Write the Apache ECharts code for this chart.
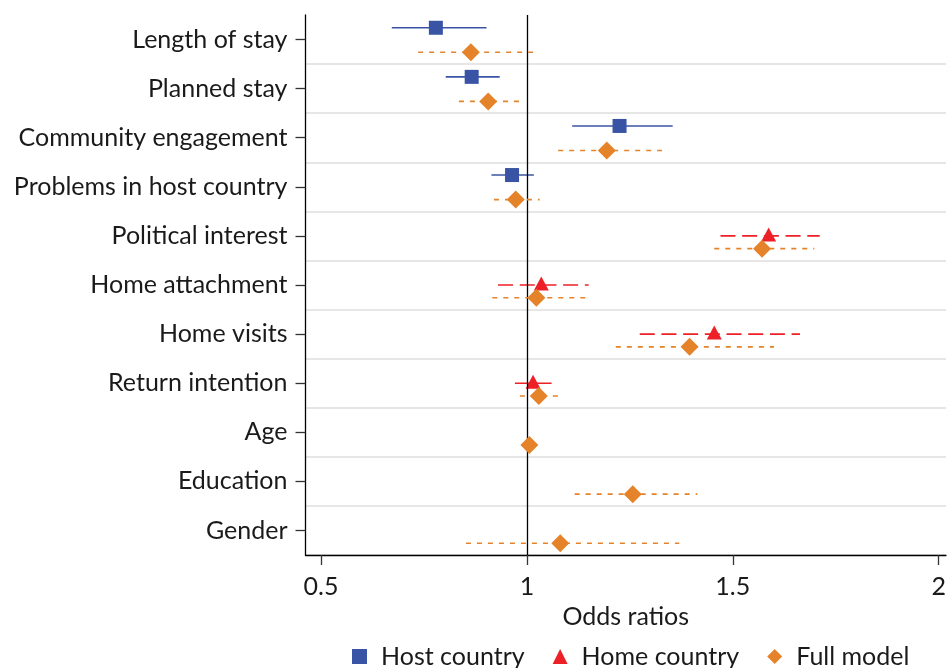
<!DOCTYPE html>
<html>
<head>
<meta charset="utf-8">
<script src="https://cdn.jsdelivr.net/npm/echarts@6/dist/echarts.min.js"></script>
<style>
html,body{margin:0;padding:0;background:#fff;}
#chart{width:949px;height:668px;}
</style>
</head>
<body>
<div id="chart"></div>
<script>
const categories = ['Length of stay','Planned stay','Community engagement','Problems in host country','Political interest','Home attachment','Home visits','Return intention','Age','Education','Gender'];
const xTicks = [0.5, 1, 1.5, 2];

const hostEst = [0.779, 0.866, 1.225, 0.964, null, null, null, null, null, null, null];
const hostLo  = [0.672, 0.803, 1.110, 0.914, null, null, null, null, null, null, null];
const hostHi  = [0.902, 0.934, 1.354, 1.017, null, null, null, null, null, null, null];

const homeEst = [null, null, null, null, 1.587, 1.035, 1.455, 1.015, null, null, null];
const homeLo  = [null, null, null, null, 1.470, 0.930, 1.274, 0.971, null, null, null];
const homeHi  = [null, null, null, null, 1.711, 1.150, 1.663, 1.060, null, null, null];

const fullEst = [0.864, 0.906, 1.194, 0.973, 1.571, 1.023, 1.395, 1.029, 1.006, 1.257, 1.081];
const fullLo  = [0.736, 0.835, 1.076, 0.920, 1.455, 0.916, 1.216, 0.983, 0.995, 1.116, 0.852];
const fullHi  = [1.015, 0.982, 1.328, 1.031, 1.698, 1.142, 1.600, 1.076, 1.017, 1.414, 1.370];

const FONT = 'Lato';
const FS = 25;

function buildData(est, lo, hi) {
  const out = [];
  categories.forEach((c, i) => {
    if (est[i] != null) out.push([c, est[i], lo[i], hi[i]]);
  });
  return out;
}

function makeRender(offset, shape, color, lineDash, size) {
  return function (params, api) {
    const cat = api.value(0);
    const band = api.size([0, 1])[1];
    const dy = offset * band;
    const p = api.coord([api.value(1), cat]);
    const pl = api.coord([api.value(2), cat]);
    const ph = api.coord([api.value(3), cat]);
    const y = p[1] + dy;
    const children = [{
      type: 'line',
      shape: { x1: pl[0], y1: y, x2: ph[0], y2: y },
      style: { stroke: color, lineWidth: 1.6, lineDash: lineDash }
    }];
    const x = p[0];
    const h = size / 2;
    if (shape === 'square') {
      children.push({ type: 'rect', shape: { x: x - h, y: y - h, width: size, height: size }, style: { fill: color } });
    } else if (shape === 'triangle') {
      children.push({ type: 'polygon', shape: { points: [[x, y - h - 1], [x + h, y + h - 2], [x - h, y + h - 2]] }, style: { fill: color } });
    } else {
      children.push({ type: 'polygon', shape: { points: [[x, y - h], [x + h, y], [x, y + h], [x - h, y]] }, style: { fill: color } });
    }
    return { type: 'group', children: children };
  };
}

const cHost = '#3a54a5';
const cHome = '#ee2027';
const cFull = '#e5832a';

const chart = echarts.init(document.getElementById('chart'), null, { renderer: 'canvas' });
chart.setOption({
  animation: false,
  backgroundColor: '#ffffff',
  textStyle: { fontFamily: FONT },
  grid: { show: false, left: 305.5, right: 0, top: 15, bottom: 113, containLabel: false },
  legend: {
    bottom: -6,
    left: 347,
    itemWidth: 15,
    itemHeight: 15,
    itemGap: 28,
    textStyle: { fontFamily: FONT, fontSize: FS, color: '#1a1a1a', padding: [0, 0, 0, 9] },
    data: [
      { name: 'Host country', icon: 'rect' },
      { name: 'Home country', icon: 'triangle' },
      { name: 'Full model', icon: 'diamond' }
    ]
  },
  xAxis: {
    type: 'value',
    min: 0.4625,
    max: 2.0175,
    name: 'Odds ratios',
    nameLocation: 'middle',
    nameGap: 49,
    nameTextStyle: { fontFamily: FONT, fontSize: FS, color: '#1a1a1a' },
    axisLine: { show: true, onZero: false, lineStyle: { color: '#000', width: 1.3 } },
    axisTick: { show: true, length: 10, customValues: xTicks, lineStyle: { color: '#333', width: 1.3 } },
    axisLabel: { customValues: xTicks, margin: 19, fontFamily: FONT, fontSize: FS, color: '#1a1a1a', formatter: v => String(v) },
    splitLine: { show: false },
    minorSplitLine: { show: false }
  },
  yAxis: {
    type: 'category',
    data: categories,
    inverse: true,
    boundaryGap: true,
    axisLine: { show: true, lineStyle: { color: '#000', width: 1.3 } },
    axisTick: { show: true, alignWithLabel: true, length: 10, lineStyle: { color: '#333', width: 1.3 } },
    axisLabel: { margin: 18, fontFamily: FONT, fontSize: FS, color: '#1a1a1a' },
    splitLine: { show: true, interval: function (idx) { return idx !== 0; }, lineStyle: { color: '#dedede', width: 1.6 } }
  },
  series: [
    {
      name: 'Host country', type: 'custom', itemStyle: { color: cHost },
      renderItem: makeRender(-0.24, 'square', cHost, null, 14),
      encode: { x: [1, 2, 3], y: 0 },
      data: buildData(hostEst, hostLo, hostHi),
      markLine: {
        silent: true, symbol: 'none', label: { show: false },
        lineStyle: { color: '#000', type: 'solid', width: 1.3 },
        data: [{ xAxis: 1 }]
      },
      z: 3
    },
    {
      name: 'Home country', type: 'custom', itemStyle: { color: cHome },
      renderItem: makeRender(0, 'triangle', cHome, [15, 6.7], 15),
      encode: { x: [1, 2, 3], y: 0 },
      data: buildData(homeEst, homeLo, homeHi),
      z: 4
    },
    {
      name: 'Full model', type: 'custom', itemStyle: { color: cFull },
      renderItem: makeRender(0.26, 'diamond', cFull, [5, 6], 18),
      encode: { x: [1, 2, 3], y: 0 },
      data: buildData(fullEst, fullLo, fullHi),
      z: 5
    }
  ]
});
</script>
</body>
</html>
